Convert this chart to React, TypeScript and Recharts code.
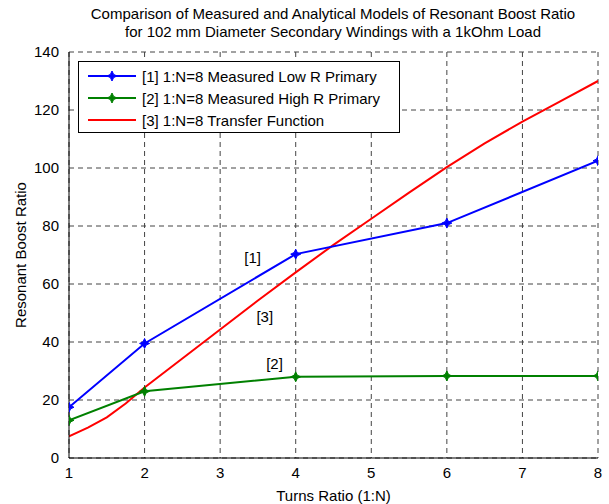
import React from "react";
import {
  CartesianGrid,
  Line,
  LineChart,
  ReferenceDot,
  XAxis,
  YAxis,
} from "recharts";

const turns = [1, 2, 4, 6, 8];
const lowR = [17.5, 39.5, 70.3, 81, 102.5];
const highR = [13, 23, 28, 28.3, 28.3];

const tfTurns = [1, 1.25, 1.5, 1.75, 2, 2.5, 3, 3.5, 4, 4.5, 5, 5.5, 6, 6.5, 7, 7.5, 8];
const tfValues = [7.5, 10.5, 14, 18.8, 24.3, 34.3, 44.3, 54.3, 64, 73.5, 82.5, 91.5, 100.3, 108.5, 116, 123, 130];

const xTicks = [1, 2, 3, 4, 5, 6, 7, 8];
const yTicks = [0, 20, 40, 60, 80, 100, 120, 140];

const seriesNames = [
  "[1] 1:N=8 Measured Low R Primary",
  "[2] 1:N=8 Measured High R Primary",
  "[3] 1:N=8 Transfer Function",
];

const notes = [
  { x: 3.43, y: 69, text: "[1]" },
  { x: 3.59, y: 48.6, text: "[3]" },
  { x: 3.72, y: 32.4, text: "[2]" },
];

const lowData = turns.map((t, i) => ({ n: t, v: lowR[i] }));
const highData = turns.map((t, i) => ({ n: t, v: highR[i] }));
const tfData = tfTurns.map((t, i) => ({ n: t, v: tfValues[i] }));

const font = "'Liberation Sans', Arial, sans-serif";
const fs = 15;

function Star(props: any) {
  const { cx, cy, fill } = props;
  if (cx == null || cy == null) return null;
  const s = 5;
  const w = 1.6;
  const d = `M${cx},${cy - s} L${cx + w},${cy - w} L${cx + s},${cy} L${cx + w},${cy + w} L${cx},${cy + s} L${cx - w},${cy + w} L${cx - s},${cy} L${cx - w},${cy - w} Z`;
  return <path d={d} fill={fill} stroke={fill} strokeWidth={1} />;
}

function LegendBox() {
  const colors = ["#0000ff", "#008000", "#ff0000"];
  return (
    <div
      style={{
        position: "absolute",
        left: 78,
        top: 61,
        border: "1px solid #000",
        background: "#fff",
        width: 322,
        height: 72,
        boxSizing: "border-box",
        paddingTop: 3,
        fontFamily: font,
        fontSize: fs,
      }}
    >
      {seriesNames.map((name, i) => (
        <div key={name} style={{ display: "flex", alignItems: "center", height: 22 }}>
          <svg width={63} height={12}>
            <line x1={9} y1={6} x2={57} y2={6} stroke={colors[i]} strokeWidth={2} />
            {i < 2 && <Star cx={33} cy={6} fill={colors[i]} />}
          </svg>
          <span style={{ color: "#000", whiteSpace: "nowrap" }}>{name}</span>
        </div>
      ))}
    </div>
  );
}

export default function App() {
  return (
    <div style={{ position: "relative", width: 609, height: 504, background: "#fff", fontFamily: font }}>
      <style>{`body{margin:0}`}</style>
      <div
        style={{
          position: "absolute",
          left: 58,
          width: 550,
          top: 5,
          textAlign: "center",
          fontSize: fs,
          lineHeight: "18px",
          color: "#000",
          whiteSpace: "nowrap",
        }}
      >
        Comparison of Measured and Analytical Models of Resonant Boost Ratio
        <br />
        for 102 mm Diameter Secondary Windings with a 1kOhm Load
      </div>
      <LineChart
        width={609}
        height={504}
        margin={{ top: 52, right: 11, bottom: 0, left: 0 }}
        style={{ position: "absolute", left: 0, top: 0 }}
      >
        <CartesianGrid stroke="#444" strokeDasharray="5 4" strokeWidth={1} />
        <XAxis
          dataKey="n"
          type="number"
          domain={[1, 8]}
          ticks={xTicks}
          allowDataOverflow
          height={46}
          tickLine={false}
          axisLine={{ stroke: "#000", strokeWidth: 1 }}
          tick={{ fill: "#000", fontSize: fs, fontFamily: font }}
          tickMargin={3}
          label={{ value: "Turns Ratio (1:N)", position: "insideBottom", offset: 3, fill: "#000", fontSize: fs, fontFamily: font }}
        />
        <XAxis xAxisId="top" orientation="top" type="number" domain={[1, 8]} height={0} tick={false} tickLine={false} axisLine={{ stroke: "#000" }} />
        <YAxis
          type="number"
          domain={[0, 140]}
          ticks={yTicks}
          width={69}
          tickLine={false}
          axisLine={{ stroke: "#000", strokeWidth: 1 }}
          tick={{ fill: "#000", fontSize: fs, fontFamily: font }}
          tickMargin={4}
          label={{ value: "Resonant Boost Ratio", angle: -90, position: "insideLeft", offset: 21, style: { textAnchor: "middle" }, fill: "#000", fontSize: fs, fontFamily: font }}
        />
        <YAxis yAxisId="right" orientation="right" type="number" domain={[0, 140]} width={0} tick={false} tickLine={false} axisLine={{ stroke: "#000" }} />
        <Line data={tfData} dataKey="v" name={seriesNames[2]} stroke="#ff0000" strokeWidth={2} dot={false} isAnimationActive={false} />
        <Line data={lowData} dataKey="v" name={seriesNames[0]} stroke="#0000ff" strokeWidth={2} dot={<Star fill="#0000ff" />} isAnimationActive={false} />
        <Line data={highData} dataKey="v" name={seriesNames[1]} stroke="#008000" strokeWidth={2} dot={<Star fill="#008000" />} isAnimationActive={false} />
        {notes.map((n) => (
          <ReferenceDot
            key={n.text}
            x={n.x}
            y={n.y}
            r={0}
            fill="none"
            stroke="none"
            label={{ value: n.text, position: "center", fill: "#000", fontSize: fs, fontFamily: font }}
          />
        ))}
      </LineChart>
      <LegendBox />
    </div>
  );
}
